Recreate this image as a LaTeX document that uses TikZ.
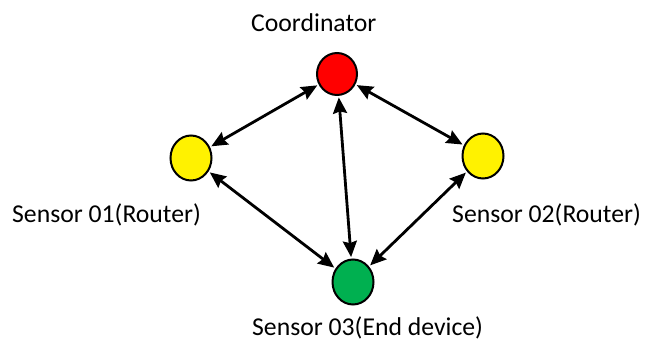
\documentclass[tikz,border=0pt]{standalone}
\usepackage{fontspec}
\setmainfont{Carlito}
\usetikzlibrary{arrows.meta,shapes.geometric}
\begin{document}
\begin{tikzpicture}[x=1pt,y=-1pt,
  dev/.style={ellipse,draw=black,line width=2pt,minimum width=41pt,minimum height=45pt,inner sep=0pt},
  link/.style={line width=2.8pt,{Stealth[length=16pt,width=14pt,inset=2pt]}-{Stealth[length=16pt,width=14pt,inset=2pt]},shorten >=1.5pt,shorten <=1.5pt},
  lbl/.style={anchor=base west,inner sep=0pt,font=\fontsize{25.7}{30}\selectfont}]
\useasboundingbox (0,0) rectangle (645,345);
\node[dev,fill=red,minimum width=40pt,minimum height=42pt] (c) at (337,74) {};
\node[dev,fill=yellow] (s1) at (191,158) {};
\node[dev,fill=yellow] (s2) at (483,156) {};
\node[dev,fill={rgb,255:red,0;green,176;blue,80}] (s3) at (353,282) {};
\node[lbl] (lc) at (251,32) {Coordinator};
\node[lbl] (l1) at (12,222) {Sensor 01(Router)};
\node[lbl] (l2) at (452,222) {Sensor 02(Router)};
\node[lbl] (l3) at (252,335) {Sensor 03(End device)};
\draw[link] (s1) -- (c);
\draw[link] (c) -- (s2);
\draw[link] (c) -- (s3);
\draw[link] (s1) -- (s3);
\draw[link] (s3) -- (s2);
\end{tikzpicture}
\end{document}
